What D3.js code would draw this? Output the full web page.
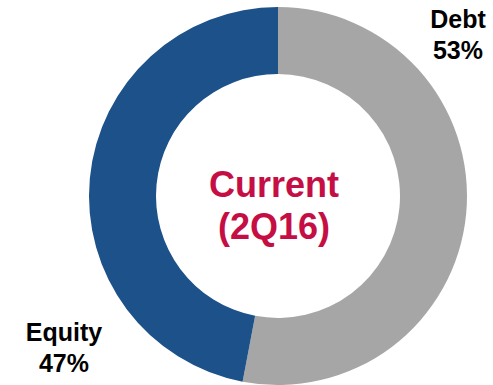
<!DOCTYPE html>
<html>
<head>
<meta charset="utf-8">
<script src="https://cdn.jsdelivr.net/npm/d3@7"></script>
<style>
  body { margin: 0; background: #fff; }
  text { font-family: "Liberation Sans", Arial, sans-serif; font-weight: bold; }
</style>
</head>
<body>
<div id="chart"></div>
<script>
// capital structure, current quarter
var categories = ["Debt", "Equity"]
var values = [53, 47]
var centerLines = ["Current", "(2Q16)"]

var width = 493,
    height = 385

var cx = 278, cy = 196
var outerR = 189, innerR = 122

var color = d3.scaleOrdinal()
  .domain(categories)
  .range(["#a6a6a6", "#1c5189"])

var svg = d3.select("#chart")
  .append("svg")
    .attr("width", width)
    .attr("height", height)

var g = svg.append("g")
  .attr("transform", "translate(" + cx + "," + cy + ")")

var pie = d3.pie().sort(null).value(function(d) { return d.value })
var data_ready = pie(categories.map(function(c, i) { return { key: c, value: values[i] } }))

var arc = d3.arc().innerRadius(innerR).outerRadius(outerR)

g.selectAll("path")
  .data(data_ready)
  .enter()
  .append("path")
    .attr("d", arc)
    .attr("fill", function(d) { return color(d.data.key) })

// slice labels sit outside the ring
var labelPos = { Debt: [458, 28], Equity: [64, 341] }
data_ready.forEach(function(d) {
  var p = labelPos[d.data.key]
  var t = svg.append("text")
    .attr("x", p[0])
    .attr("y", p[1])
    .attr("text-anchor", "middle")
    .attr("font-size", 25)
    .attr("fill", "#000")
  t.append("tspan").attr("x", p[0]).text(d.data.key)
  t.append("tspan").attr("x", p[0]).attr("dy", 31).text(d.data.value + "%")
})

// centre caption
svg.append("g")
  .selectAll("text")
  .data(centerLines)
  .enter()
  .append("text")
    .attr("x", 274)
    .attr("y", function(d, i) { return 197 + i * 42 })
    .attr("text-anchor", "middle")
    .attr("font-size", 36)
    .attr("fill", "#c50f44")
    .text(function(d) { return d })
</script>
</body>
</html>
